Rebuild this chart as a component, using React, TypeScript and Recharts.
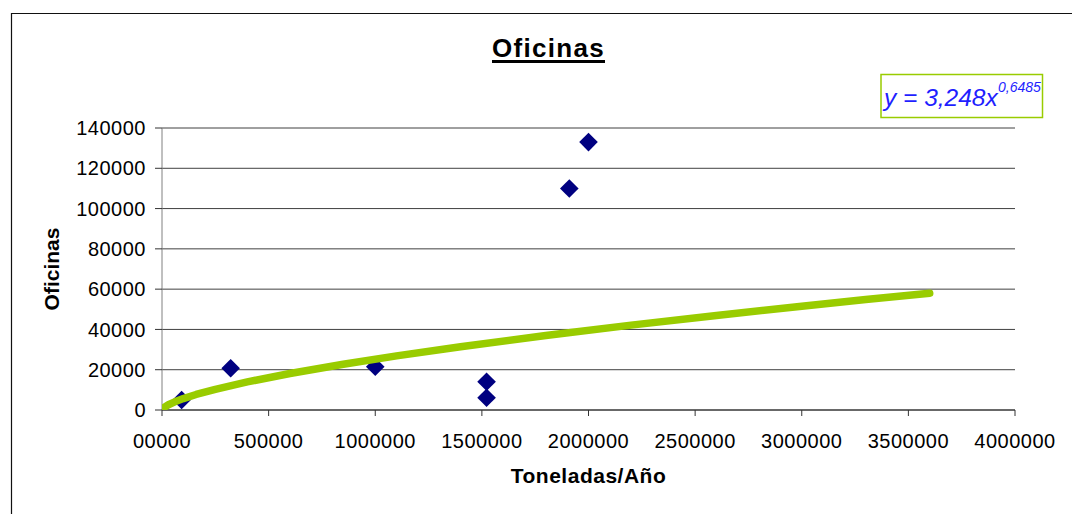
import React from 'react';
import { ScatterChart, Scatter, XAxis, YAxis, CartesianGrid, Label } from 'recharts';

// Observed values: tonnes per year vs. number of offices
const TONELADAS = [92000, 322000, 1000000, 1522000, 1522000, 1910000, 2000000];
const OFICINAS = [5000, 20700, 21500, 14000, 6100, 110000, 133000];

const X_TICKS = [0, 500000, 1000000, 1500000, 2000000, 2500000, 3000000, 3500000, 4000000];
const X_TICK_LABELS = ['00000', '500000', '1000000', '1500000', '2000000', '2500000', '3000000', '3500000', '4000000'];
const Y_TICKS = [0, 20000, 40000, 60000, 80000, 100000, 120000, 140000];

// Power trendline y = a·x^b with the coefficients printed in the equation box
const TREND_A = 3.248;
const TREND_B = 0.6485;
const TREND_LABEL_A = '3,248';
const TREND_LABEL_B = '0,6485';
const TREND_X = [
  0, 2000, 10000, 30000, 60000, 100000, 160000, 250000, 400000, 600000, 850000,
  1100000, 1400000, 1800000, 2200000, 2600000, 3000000, 3300000, 3600000,
];

const FONT = '"Liberation Sans", Arial, sans-serif';
const NAVY = '#000080';
const LIME = '#99cc00';

const points = TONELADAS.map((x, i) => ({ x, y: OFICINAS[i] }));
const trend = TREND_X.map((x) => ({ x, y: TREND_A * Math.pow(x, TREND_B) }));

const Diamond = (props: any) => {
  const { cx, cy } = props;
  if (cx == null || cy == null) return <g />;
  const r = 9.3;
  return (
    <polygon
      points={`${cx},${cy - r} ${cx + r},${cy} ${cx},${cy + r} ${cx - r},${cy}`}
      fill={NAVY}
    />
  );
};

const NoDot = () => <g />;

export default function App() {
  return (
    <div
      style={{
        position: 'absolute',
        left: 0,
        top: 0,
        width: 1072,
        height: 514,
        background: '#fff',
        overflow: 'hidden',
      }}
    >
      <ScatterChart width={1072} height={514} margin={{ top: 128, right: 57, bottom: 44, left: 40 }}>
        <CartesianGrid vertical={false} stroke="#404040" />
        <XAxis
          type="number"
          dataKey="x"
          domain={[0, 4000000]}
          ticks={X_TICKS}
          interval={0}
          allowDataOverflow
          height={60}
          tickSize={6}
          tickMargin={18}
          tickFormatter={(v: number) => X_TICK_LABELS[X_TICKS.indexOf(v)] ?? String(v)}
          axisLine={{ stroke: '#333' }}
          tickLine={{ stroke: '#333' }}
          tick={{ fill: '#000', fontSize: 20, fontFamily: FONT, letterSpacing: 0.5 }}
        >
          <Label
            value="Toneladas/Año"
            position="bottom"
            offset={-2}
            style={{ fontSize: 21, fontWeight: 'bold', fill: '#000', fontFamily: FONT, letterSpacing: 0.5 }}
          />
        </XAxis>
        <YAxis
          type="number"
          dataKey="y"
          domain={[0, 140000]}
          ticks={Y_TICKS}
          interval={0}
          allowDataOverflow
          width={122}
          tickSize={7}
          tickMargin={9}
          axisLine={{ stroke: '#808080' }}
          tickLine={{ stroke: '#333' }}
          tick={{ fill: '#000', fontSize: 20, fontFamily: FONT, letterSpacing: 0.5 }}
        >
          <Label
            value="Oficinas"
            angle={-90}
            position="insideLeft"
            offset={12}
            style={{ textAnchor: 'middle', fontSize: 21, fontWeight: 'bold', fill: '#000', fontFamily: FONT }}
          />
        </YAxis>
        <Scatter data={points} fill={NAVY} shape={Diamond} isAnimationActive={false} />
        <Scatter
          data={trend}
          line={{ stroke: LIME, strokeWidth: 7.5, strokeLinecap: 'round', strokeLinejoin: 'round' }}
          lineType="joint"
          shape={NoDot}
          isAnimationActive={false}
        />
      </ScatterChart>

      {/* chart frame, title and equation box */}
      <svg
        width={1072}
        height={514}
        style={{ position: 'absolute', left: 0, top: 0, pointerEvents: 'none' }}
      >
        <path d="M11.5 514 V13.5 H1072" stroke="#111" strokeWidth={1.2} fill="none" />
        <rect x={881} y={74.5} width={161.5} height={43} fill="#fff" stroke={LIME} strokeWidth={1.5} />
        <text x={884} y={106} fill="#1f1fff" fontFamily={FONT} fontStyle="italic" fontSize={24.5}>
          {`y = ${TREND_LABEL_A}x`}
        </text>
        <text x={998} y={92} fill="#1f1fff" fontFamily={FONT} fontStyle="italic" fontSize={14}>
          {TREND_LABEL_B}
        </text>
      </svg>
      <div
        style={{
          position: 'absolute',
          left: 0,
          top: 34.7,
          width: 1097,
          textAlign: 'center',
          fontFamily: FONT,
          fontWeight: 'bold',
          fontSize: 26,
          lineHeight: '26px',
          letterSpacing: 1.3,
          color: '#000',
          textDecoration: 'underline',
          textDecorationThickness: '3px',
          textUnderlineOffset: '3px',
        }}
      >
        Oficinas
      </div>
    </div>
  );
}
